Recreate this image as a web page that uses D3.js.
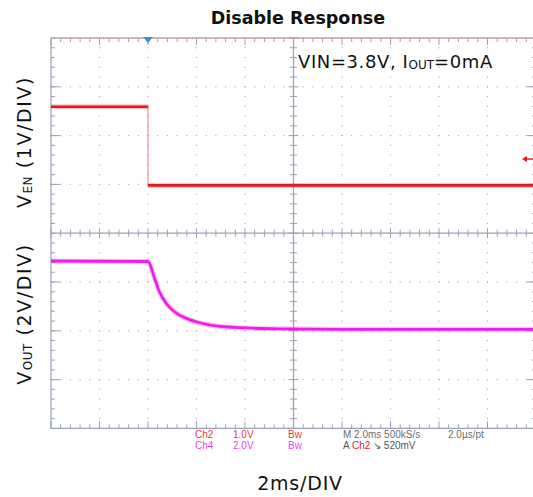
<!DOCTYPE html>
<html>
<head>
<meta charset="utf-8">
<script src="https://cdn.jsdelivr.net/npm/d3@7"></script>
<style>
  html, body { margin: 0; padding: 0; background: #fff; }
  svg { display: block; }
</style>
</head>
<body>
<script>
// ---------- data ----------
// time axis: 2 ms/div, trigger at t=0 (second division)
const timeDomain = [-4, 16];           // ms
const divDomain = [-4, 4];             // vertical divisions
// V_EN (Ch2, 1 V/div, ground 1 div above centre)
const enTime = [-4, 0, 0, 16];
const enVolt = [1.59, 1.59, -0.02, -0.02];
const enScale = 1, enGround = 1;
// V_OUT (Ch4, 2 V/div, ground 2 div below centre)
const outTime = [-4, 0, 0.27, 0.47, 0.75, 1.09, 1.58, 2.12, 2.81, 3.77, 5.42, 8, 16];
const outVolt = [2.86, 2.84, 2.15, 1.60, 1.13, 0.78, 0.51, 0.33, 0.20, 0.13, 0.08, 0.06, 0.06];
const outScale = 2, outGround = -2;
const trigLevel = 0.52; // V on Ch2
// readout texts
const readRow1 = [["Ch2", "ch2"], ["1.0V", "ch2"], ["Bw", "ch2"], ["M 2.0ms 500kS/s", "gray"], ["2.0\u00b5s/pt", "gray"]];
const readRow2 = [["Ch4", "ch4"], ["2.0V", "ch4"], ["Bw", "ch4"]];

const W = 533, H = 497;
const plot = { left: 51, right: 536, top: 38, bottom: 428.4 };
const colors = { ch2: "#e8161e", ch4: "#ee1cee", gray: "#555", grid: "#9aa1b6", dot: "#aeb2c0", top: "#bfa2a0" };

const svg = d3.select("body").append("svg").attr("width", W).attr("height", H);
svg.append("rect").attr("width", W).attr("height", H).attr("fill", "#fff");

const x = d3.scaleLinear().domain(timeDomain).range([plot.left, plot.right]);
const y = d3.scaleLinear().domain(divDomain).range([plot.bottom, plot.top]);

const g = svg.append("g");

// ---------- graticule ----------
const majorX = d3.range(timeDomain[0], timeDomain[1] + 0.001, 2);
const minorX = d3.range(timeDomain[0], timeDomain[1] + 0.001, 0.4);
const majorY = d3.range(divDomain[0], divDomain[1] + 0.001, 1);
const minorY = d3.range(divDomain[0], divDomain[1] + 0.001, 0.2);

// dotted grid
majorX.forEach(t => {
  if (t === timeDomain[0] || t === timeDomain[1] || t === 6) return;
  minorY.forEach(d => {
    g.append("rect").attr("x", x(t) - 0.6).attr("y", y(d) - 0.6).attr("width", 1.2).attr("height", 1.2).attr("fill", colors.dot);
  });
});
majorY.forEach(d => {
  if (d === divDomain[0] || d === divDomain[1] || d === 0) return;
  minorX.forEach(t => {
    g.append("rect").attr("x", x(t) - 0.6).attr("y", y(d) - 0.6).attr("width", 1.2).attr("height", 1.2).attr("fill", colors.dot);
  });
  g.append("line").attr("x1", plot.left).attr("x2", plot.left + 9).attr("y1", y(d)).attr("y2", y(d)).attr("stroke", colors.grid).attr("stroke-width", 1);
  g.append("line").attr("x1", plot.right - 9).attr("x2", plot.right).attr("y1", y(d)).attr("y2", y(d)).attr("stroke", colors.grid).attr("stroke-width", 1);
});

// centre cross
g.append("line").attr("x1", plot.left).attr("x2", plot.right).attr("y1", y(0)).attr("y2", y(0)).attr("stroke", colors.grid).attr("stroke-width", 1.2);
g.append("line").attr("x1", x(6)).attr("x2", x(6)).attr("y1", plot.top).attr("y2", plot.bottom).attr("stroke", colors.grid).attr("stroke-width", 1.2);
minorX.forEach((t, i) => {
  const len = (i % 5 === 0) ? 5 : 3.5;
  g.append("line").attr("x1", x(t)).attr("x2", x(t)).attr("y1", y(0) - len).attr("y2", y(0) + len).attr("stroke", colors.grid);
  const bl = (i % 5 === 0) ? 7 : 4;
  g.append("line").attr("x1", x(t)).attr("x2", x(t)).attr("y1", plot.top).attr("y2", plot.top + bl).attr("stroke", colors.grid);
  g.append("line").attr("x1", x(t)).attr("x2", x(t)).attr("y1", plot.bottom).attr("y2", plot.bottom - bl).attr("stroke", colors.grid);
});
minorY.forEach((d, i) => {
  const len = (i % 5 === 0) ? 5 : 3.5;
  g.append("line").attr("x1", x(6) - len).attr("x2", x(6) + len).attr("y1", y(d)).attr("y2", y(d)).attr("stroke", colors.grid);
  g.append("line").attr("x1", plot.left).attr("x2", plot.left + 4).attr("y1", y(d)).attr("y2", y(d)).attr("stroke", colors.grid);
  g.append("line").attr("x1", plot.right - 4).attr("x2", plot.right).attr("y1", y(d)).attr("y2", y(d)).attr("stroke", colors.grid);
});
// border
g.append("line").attr("x1", plot.left).attr("x2", plot.left).attr("y1", plot.top).attr("y2", plot.bottom).attr("stroke", colors.grid).attr("stroke-width", 1.2);
g.append("line").attr("x1", plot.right).attr("x2", plot.right).attr("y1", plot.top).attr("y2", plot.bottom).attr("stroke", colors.grid).attr("stroke-width", 1.2);
g.append("line").attr("x1", plot.left).attr("x2", plot.right).attr("y1", plot.bottom).attr("y2", plot.bottom).attr("stroke", colors.grid).attr("stroke-width", 1.2);
g.append("line").attr("x1", plot.left).attr("x2", plot.right).attr("y1", plot.top).attr("y2", plot.top).attr("stroke", colors.top).attr("stroke-width", 1.6);

// ---------- traces ----------
svg.append("clipPath").attr("id", "clip").append("rect")
  .attr("x", plot.left).attr("y", plot.top).attr("width", plot.right - plot.left).attr("height", plot.bottom - plot.top);
const tr = svg.append("g").attr("clip-path", "url(#clip)");

const enPts = enTime.map((t, i) => [t, enGround + enVolt[i] / enScale]);
const outPts = outTime.map((t, i) => [t, outGround + outVolt[i] / outScale]);
const line = d3.line().x(d => x(d[0])).y(d => y(d[1]));

tr.append("path").attr("d", line(enPts)).attr("fill", "none").attr("stroke", "#f07a80").attr("stroke-width", 1);
for (let i = 0; i < enPts.length - 1; i++) {
  if (enPts[i][0] === enPts[i + 1][0]) continue;
  const seg = [enPts[i], enPts[i + 1]];
  tr.append("path").attr("d", line(seg)).attr("fill", "none").attr("stroke", colors.ch2).attr("stroke-width", 5).attr("stroke-opacity", 0.25);
  tr.append("path").attr("d", line(seg)).attr("fill", "none").attr("stroke", colors.ch2).attr("stroke-width", 2.6);
}
const curve = d3.line().x(d => x(d[0])).y(d => y(d[1])).curve(d3.curveMonotoneX);
tr.append("path").attr("d", curve(outPts)).attr("fill", "none").attr("stroke", colors.ch4).attr("stroke-width", 5).attr("stroke-opacity", 0.25);
tr.append("path").attr("d", curve(outPts)).attr("fill", "none").attr("stroke", colors.ch4).attr("stroke-width", 2.8);

// trigger markers
const tx = x(0);
svg.append("path").attr("d", `M${tx - 5},${plot.top - 1} L${tx + 5},${plot.top - 1} L${tx},${plot.top + 5} Z`).attr("fill", "#3b8fe6");
const ty = y(enGround + trigLevel / enScale);
svg.append("path").attr("d", `M${522},${ty} L${527},${ty - 3} L${527},${ty + 3} Z`).attr("fill", colors.ch2);
svg.append("line").attr("x1", 525).attr("x2", 533).attr("y1", ty).attr("y2", ty).attr("stroke", colors.ch2).attr("stroke-width", 1.4);

// ---------- texts ----------
svg.append("text").attr("x", 298).attr("y", 24).attr("text-anchor", "middle")
  .attr("font-family", "DejaVu Sans").attr("font-weight", "bold").attr("font-size", 17.5).attr("fill", "#111")
  .text("Disable Response");

const cond = svg.append("text").attr("x", 298).attr("y", 68)
  .attr("font-family", "DejaVu Sans").attr("font-size", 18).attr("letter-spacing", 0.6).attr("fill", "#111");
cond.append("tspan").text("VIN=3.8V, I");
cond.append("tspan").attr("font-size", 12).attr("dy", 1).attr("letter-spacing", 0).text("OUT");
cond.append("tspan").attr("dy", -1).text("=0mA");

function yLabel(cx, cy, main, sub, rest) {
  const t = svg.append("text").attr("transform", `translate(${cx},${cy}) rotate(-90)`).attr("text-anchor", "middle")
    .attr("font-family", "DejaVu Sans").attr("font-size", 19).attr("letter-spacing", 1.6).attr("fill", "#111");
  t.append("tspan").text(main);
  t.append("tspan").attr("font-size", 12).attr("dy", 1).attr("letter-spacing", 0.5).text(sub);
  t.append("tspan").attr("dy", -1).text(rest);
}
yLabel(31, 142, "V", "EN", " (1V/DIV)");
yLabel(31, 314, "V", "OUT", " (2V/DIV)");

svg.append("text").attr("x", 300).attr("y", 490).attr("text-anchor", "middle")
  .attr("font-family", "DejaVu Sans").attr("font-size", 19).attr("letter-spacing", 0.8).attr("fill", "#111").text("2ms/DIV");

// readout
const rx = [195, 233, 288, 343, 448];
function readout(row, yy) {
  row.forEach((r, i) => {
    svg.append("text").attr("x", rx[i]).attr("y", yy).attr("font-family", "Liberation Sans").attr("font-size", 10)
      .attr("fill", colors[r[1]]).attr("fill-opacity", 0.9).text(r[0]);
  });
}
readout(readRow1, 438);
readout(readRow2, 449);
const a = svg.append("text").attr("x", 343).attr("y", 449).attr("font-family", "Liberation Sans").attr("font-size", 10).attr("fill", colors.gray);
a.append("tspan").text("A ");
a.append("tspan").attr("fill", colors.ch2).text("Ch2");
a.append("tspan").text(" \u2198 520mV");
</script>
</body>
</html>
